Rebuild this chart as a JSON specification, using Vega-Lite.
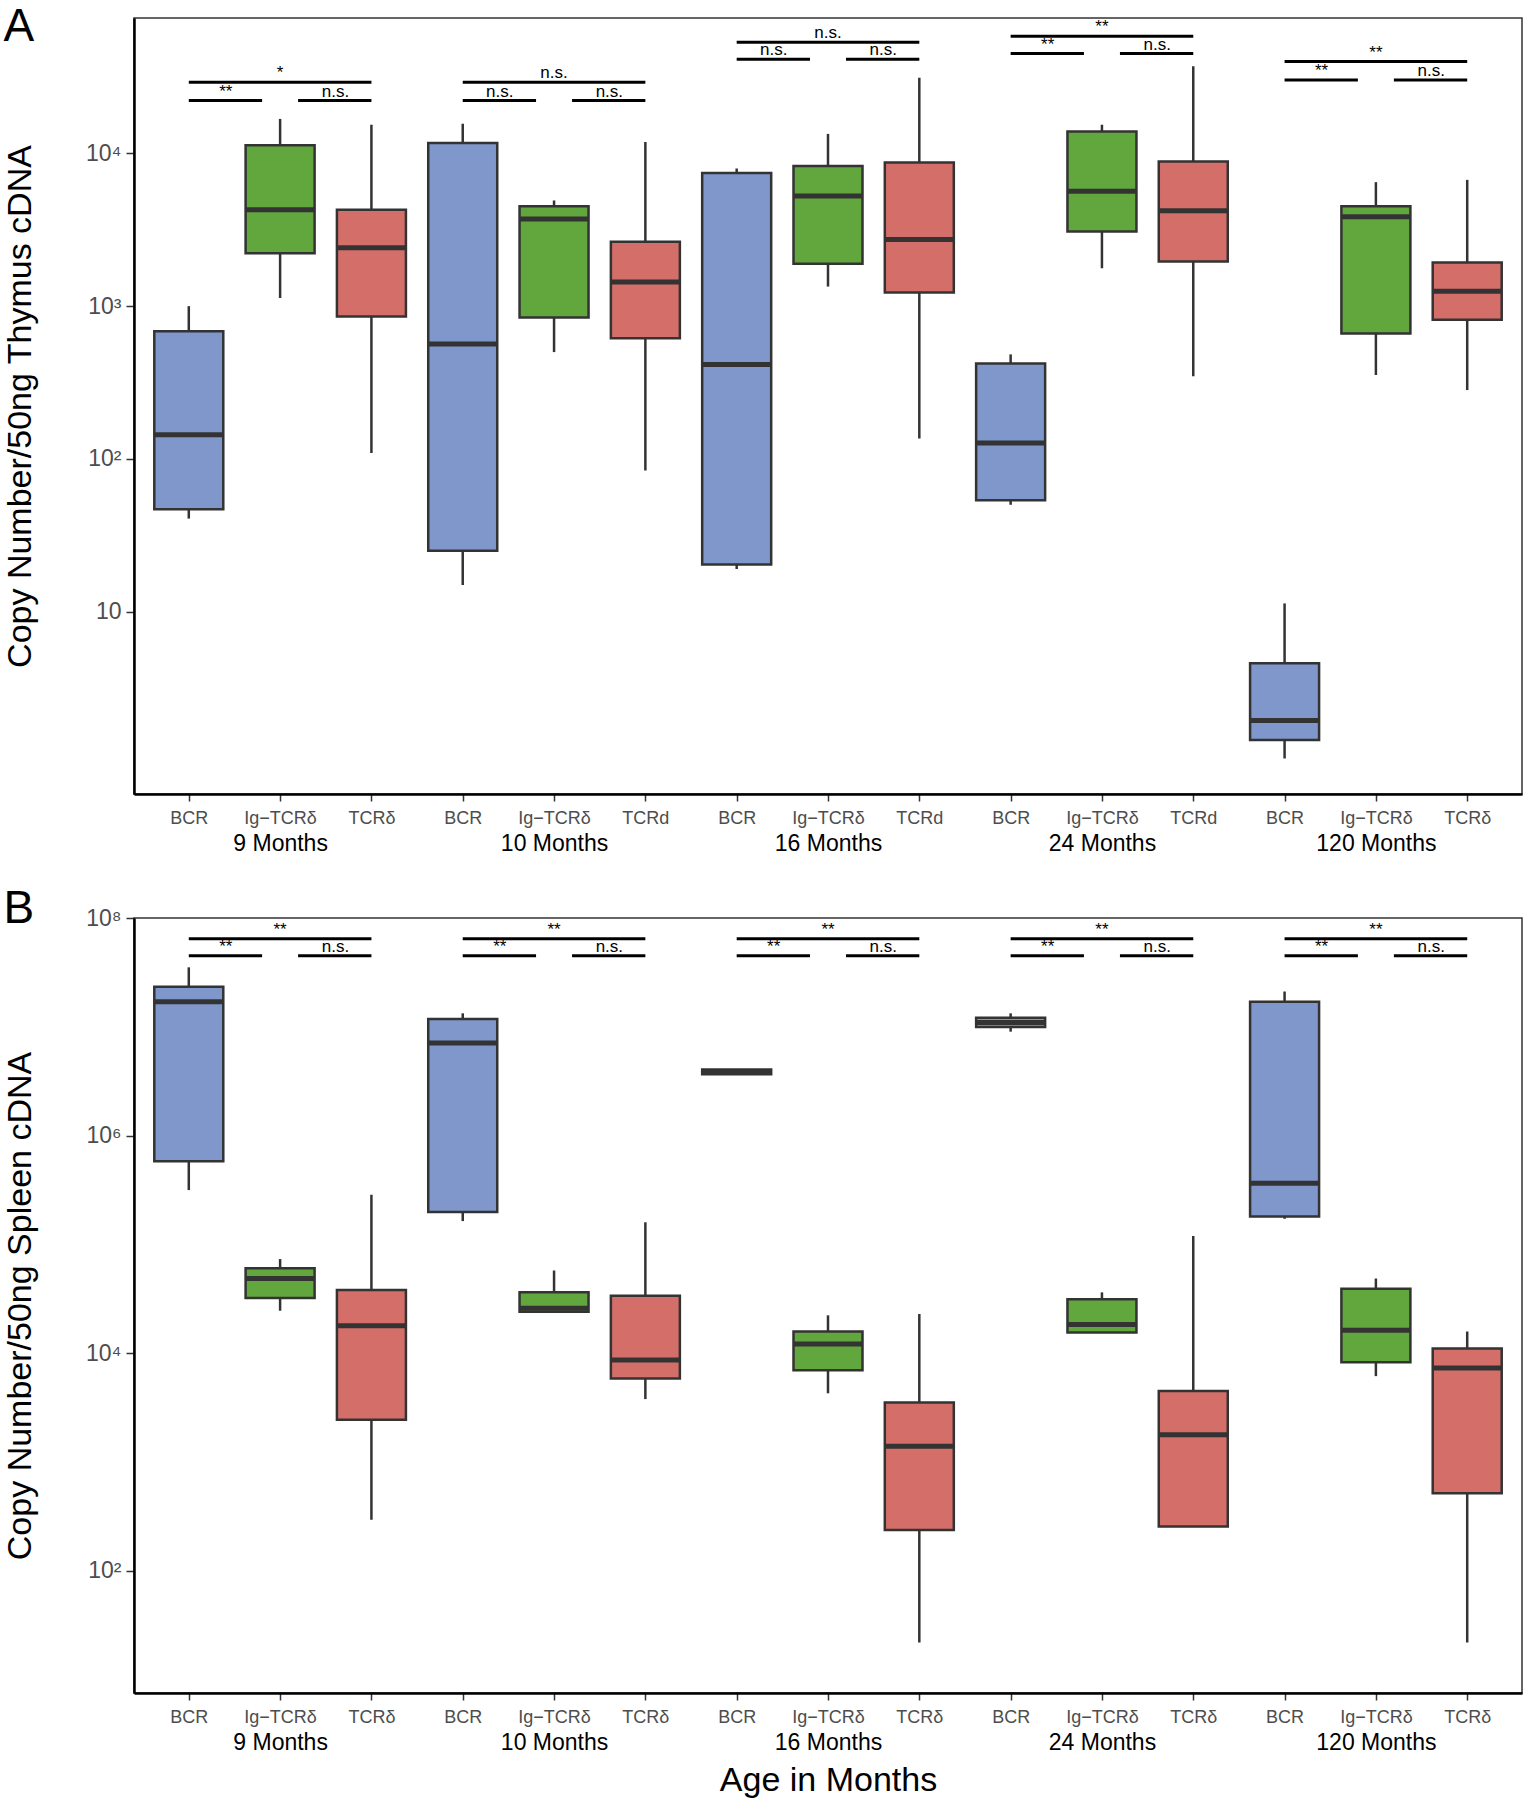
{
  "$schema": "https://vega.github.io/schema/vega-lite/v6.json",
  "padding": {"left": 2, "top": 3, "right": 1, "bottom": 0},
  "config": {
    "font": "Liberation Sans",
    "view": {"stroke": "#333333", "strokeWidth": 1.5},
    "axis": {"grid": false}
  },
  "spacing": 29,
  "datasets": {
    "boxA": [
      {"cat": "9 Months#BCR", "kind": "BCR", "lower": 40.6, "q1": 46.7, "median": 144, "q3": 684, "upper": 1000},
      {"cat": "9 Months#Ig−TCRδ", "kind": "Ig", "lower": 1130, "q1": 2218, "median": 4285, "q3": 11300, "upper": 16830},
      {"cat": "9 Months#TCRδ", "kind": "TCR", "lower": 109, "q1": 855, "median": 2415, "q3": 4285, "upper": 15420},
      {"cat": "10 Months#BCR", "kind": "BCR", "lower": 14.9, "q1": 25, "median": 565, "q3": 11700, "upper": 15670},
      {"cat": "10 Months#Ig−TCRδ", "kind": "Ig", "lower": 500, "q1": 841, "median": 3724, "q3": 4508, "upper": 4920},
      {"cat": "10 Months#TCRd", "kind": "TCR", "lower": 84, "q1": 615, "median": 1439, "q3": 2636, "upper": 11885},
      {"cat": "16 Months#BCR", "kind": "BCR", "lower": 19, "q1": 20.3, "median": 414, "q3": 7450, "upper": 7980},
      {"cat": "16 Months#Ig−TCRδ", "kind": "Ig", "lower": 1343, "q1": 1897, "median": 5272, "q3": 8260, "upper": 13430},
      {"cat": "16 Months#TCRd", "kind": "TCR", "lower": 136, "q1": 1230, "median": 2729, "q3": 8710, "upper": 31330},
      {"cat": "24 Months#BCR", "kind": "BCR", "lower": 50, "q1": 53.6, "median": 127, "q3": 421, "upper": 483},
      {"cat": "24 Months#Ig−TCRδ", "kind": "Ig", "lower": 1770, "q1": 3083, "median": 5650, "q3": 13900, "upper": 15420},
      {"cat": "24 Months#TCRd", "kind": "TCR", "lower": 348, "q1": 1963, "median": 4207, "q3": 8850, "upper": 37240},
      {"cat": "120 Months#BCR", "kind": "BCR", "lower": 1.09, "q1": 1.44, "median": 1.93, "q3": 4.59, "upper": 11.3},
      {"cat": "120 Months#Ig−TCRδ", "kind": "Ig", "lower": 354, "q1": 661, "median": 3855, "q3": 4508, "upper": 6486},
      {"cat": "120 Months#TCRδ", "kind": "TCR", "lower": 282, "q1": 813, "median": 1253, "q3": 1932, "upper": 6714}
    ],
    "boxB": [
      {"cat": "9 Months#BCR", "kind": "BCR", "lower": 315500, "q1": 579400, "median": 17000000, "q3": 23300000, "upper": 35200000},
      {"cat": "9 Months#Ig−TCRδ", "kind": "Ig", "lower": 24550, "q1": 32140, "median": 48530, "q3": 60390, "upper": 73280},
      {"cat": "9 Months#TCRδ", "kind": "TCR", "lower": 295, "q1": 2443, "median": 17910, "q3": 38020, "upper": 285800},
      {"cat": "10 Months#BCR", "kind": "BCR", "lower": 163700, "q1": 198600, "median": 7080000, "q3": 11780000, "upper": 13300000},
      {"cat": "10 Months#Ig−TCRδ", "kind": "Ig", "lower": 23990, "q1": 23990, "median": 25820, "q3": 36220, "upper": 57540},
      {"cat": "10 Months#TCRδ", "kind": "TCR", "lower": 3784, "q1": 5861, "median": 8650, "q3": 33730, "upper": 159600},
      {"cat": "16 Months#BCR", "kind": "BCR", "lower": 3670000, "q1": 3670000, "median": 3855000, "q3": 4050000, "upper": 4050000},
      {"cat": "16 Months#Ig−TCRδ", "kind": "Ig", "lower": 4276, "q1": 6950, "median": 12130, "q3": 15850, "upper": 22280},
      {"cat": "16 Months#TCRδ", "kind": "TCR", "lower": 21.9, "q1": 237, "median": 1396, "q3": 3516, "upper": 22860},
      {"cat": "24 Months#BCR", "kind": "BCR", "lower": 9020000, "q1": 9930000, "median": 10960000, "q3": 12080000, "upper": 13300000},
      {"cat": "24 Months#Ig−TCRδ", "kind": "Ig", "lower": 15490, "q1": 15490, "median": 18370, "q3": 31330, "upper": 36220},
      {"cat": "24 Months#TCRδ", "kind": "TCR", "lower": 254.7, "q1": 254.7, "median": 1778, "q3": 4487, "upper": 119400},
      {"cat": "120 Months#BCR", "kind": "BCR", "lower": 171800, "q1": 180300, "median": 364800, "q3": 17000000, "upper": 21100000},
      {"cat": "120 Months#Ig−TCRδ", "kind": "Ig", "lower": 6152, "q1": 8241, "median": 16250, "q3": 38990, "upper": 48530},
      {"cat": "120 Months#TCRδ", "kind": "TCR", "lower": 21.9, "q1": 515, "median": 7295, "q3": 11020, "upper": 15850}
    ],
    "sigA": [
      {"a": "9 Months#BCR", "b": "9 Months#Ig−TCRδ", "c": "9 Months#TCRδ", "yTop": 29240, "yLow": 22180, "top": "*", "left": "**", "right": "n.s."},
      {"a": "10 Months#BCR", "b": "10 Months#Ig−TCRδ", "c": "10 Months#TCRd", "yTop": 29240, "yLow": 22180, "top": "n.s.", "left": "n.s.", "right": "n.s."},
      {"a": "16 Months#BCR", "b": "16 Months#Ig−TCRδ", "c": "16 Months#TCRd", "yTop": 53580, "yLow": 41400, "top": "n.s.", "left": "n.s.", "right": "n.s."},
      {"a": "24 Months#BCR", "b": "24 Months#Ig−TCRδ", "c": "24 Months#TCRd", "yTop": 58480, "yLow": 45080, "top": "**", "left": "**", "right": "n.s."},
      {"a": "120 Months#BCR", "b": "120 Months#Ig−TCRδ", "c": "120 Months#TCRδ", "yTop": 39990, "yLow": 30270, "top": "**", "left": "**", "right": "n.s."}
    ],
    "sigB": [
      {"a": "9 Months#BCR", "b": "9 Months#Ig−TCRδ", "c": "9 Months#TCRδ", "yTop": 64600000, "yLow": 44900000, "top": "**", "left": "**", "right": "n.s."},
      {"a": "10 Months#BCR", "b": "10 Months#Ig−TCRδ", "c": "10 Months#TCRδ", "yTop": 64600000, "yLow": 44900000, "top": "**", "left": "**", "right": "n.s."},
      {"a": "16 Months#BCR", "b": "16 Months#Ig−TCRδ", "c": "16 Months#TCRδ", "yTop": 64600000, "yLow": 44900000, "top": "**", "left": "**", "right": "n.s."},
      {"a": "24 Months#BCR", "b": "24 Months#Ig−TCRδ", "c": "24 Months#TCRδ", "yTop": 64600000, "yLow": 44900000, "top": "**", "left": "**", "right": "n.s."},
      {"a": "120 Months#BCR", "b": "120 Months#Ig−TCRδ", "c": "120 Months#TCRδ", "yTop": 64600000, "yLow": 44900000, "top": "**", "left": "**", "right": "n.s."}
    ]
  },
  "vconcat": [
    {
      "width": 1388,
      "height": 776,
      "title": {"text": "A", "anchor": "start", "frame": "bounds", "fontSize": 46, "fontWeight": "normal", "color": "black", "offset": -33},
      "resolve": {"axis": {"x": "independent"}},
      "layer": [
        {
          "data": {"name": "boxA"},
          "mark": {"type": "rule", "color": "#333333", "strokeWidth": 2.5},
          "encoding": {
            "x": {"field": "cat", "type": "nominal",
              "scale": {"type": "point", "padding": 0.6, "domain": ["9 Months#BCR","9 Months#Ig−TCRδ","9 Months#TCRδ","10 Months#BCR","10 Months#Ig−TCRδ","10 Months#TCRd","16 Months#BCR","16 Months#Ig−TCRδ","16 Months#TCRd","24 Months#BCR","24 Months#Ig−TCRδ","24 Months#TCRd","120 Months#BCR","120 Months#Ig−TCRδ","120 Months#TCRδ"]},
              "axis": {"orient": "bottom", "title": null, "labelAngle": 0, "labelExpr": "split(datum.value,'#')[1]", "labelFontSize": 18, "labelColor": "#4D4D4D", "labelPadding": 8, "tickSize": 7, "tickWidth": 1.5, "tickColor": "#333333", "domainColor": "black", "domainWidth": 2.5}},
            "y": {"field": "lower", "type": "quantitative",
              "scale": {"type": "log", "domain": [0.638, 77100], "nice": false, "zero": false},
              "axis": {"values": [10, 100, 1000, 10000], "labelExpr": "datum.value == 10 ? '10' : '10' + ['⁰','¹','²','³','⁴','⁵','⁶','⁷','⁸','⁹'][round(log(datum.value)/LN10)]", "title": "Copy Number/50ng Thymus cDNA", "titleFontSize": 34, "titleFontWeight": "normal", "titleColor": "black", "titlePadding": 48, "labelFontSize": 23, "labelColor": "#4D4D4D", "labelPadding": 5, "tickSize": 8, "tickWidth": 1.5, "tickColor": "#333333", "domainColor": "black", "domainWidth": 2.5}},
            "y2": {"field": "upper"}
          }
        },
        {
          "data": {"name": "boxA"},
          "mark": {"type": "bar", "width": 69, "stroke": "#333333", "strokeWidth": 2.5},
          "encoding": {
            "x": {"field": "cat", "type": "nominal",
              "scale": {"type": "point", "padding": 0.6, "domain": ["9 Months#BCR","9 Months#Ig−TCRδ","9 Months#TCRδ","10 Months#BCR","10 Months#Ig−TCRδ","10 Months#TCRd","16 Months#BCR","16 Months#Ig−TCRδ","16 Months#TCRd","24 Months#BCR","24 Months#Ig−TCRδ","24 Months#TCRd","120 Months#BCR","120 Months#Ig−TCRδ","120 Months#TCRδ"]},
              "axis": {"orient": "bottom", "title": null, "labelAngle": 0, "labelExpr": "indexof(datum.value,'Ig') >= 0 ? split(datum.value,'#')[0] : ''", "labelFontSize": 23, "labelColor": "black", "labelPadding": 38, "ticks": false, "tickSize": 0, "domain": false}},
            "y": {"field": "q1", "type": "quantitative"},
            "y2": {"field": "q3"},
            "color": {"field": "kind", "type": "nominal", "scale": {"domain": ["BCR", "Ig", "TCR"], "range": ["#7F97CB", "#62A63E", "#D46E68"]}, "legend": null}
          }
        },
        {
          "data": {"name": "boxA"},
          "mark": {"type": "tick", "size": 69, "thickness": 5, "color": "#333333", "opacity": 1},
          "encoding": {
            "x": {"field": "cat", "type": "nominal", "axis": null,
              "scale": {"type": "point", "padding": 0.6, "domain": ["9 Months#BCR","9 Months#Ig−TCRδ","9 Months#TCRδ","10 Months#BCR","10 Months#Ig−TCRδ","10 Months#TCRd","16 Months#BCR","16 Months#Ig−TCRδ","16 Months#TCRd","24 Months#BCR","24 Months#Ig−TCRδ","24 Months#TCRd","120 Months#BCR","120 Months#Ig−TCRδ","120 Months#TCRδ"]}},
            "y": {"field": "median", "type": "quantitative"}
          }
        },
        {
          "data": {"name": "sigA"},
          "mark": {"type": "rule", "color": "black", "strokeWidth": 3},
          "encoding": {
            "x": {"field": "a", "type": "nominal", "axis": null,
              "scale": {"type": "point", "padding": 0.6, "domain": ["9 Months#BCR","9 Months#Ig−TCRδ","9 Months#TCRδ","10 Months#BCR","10 Months#Ig−TCRδ","10 Months#TCRd","16 Months#BCR","16 Months#Ig−TCRδ","16 Months#TCRd","24 Months#BCR","24 Months#Ig−TCRδ","24 Months#TCRd","120 Months#BCR","120 Months#Ig−TCRδ","120 Months#TCRδ"]}},
            "x2": {"field": "c"},
            "y": {"field": "yTop", "type": "quantitative"}
          }
        },
        {
          "data": {"name": "sigA"},
          "mark": {"type": "rule", "color": "black", "strokeWidth": 3, "x2Offset": -18},
          "encoding": {
            "x": {"field": "a", "type": "nominal", "axis": null,
              "scale": {"type": "point", "padding": 0.6, "domain": ["9 Months#BCR","9 Months#Ig−TCRδ","9 Months#TCRδ","10 Months#BCR","10 Months#Ig−TCRδ","10 Months#TCRd","16 Months#BCR","16 Months#Ig−TCRδ","16 Months#TCRd","24 Months#BCR","24 Months#Ig−TCRδ","24 Months#TCRd","120 Months#BCR","120 Months#Ig−TCRδ","120 Months#TCRδ"]}},
            "x2": {"field": "b"},
            "y": {"field": "yLow", "type": "quantitative"}
          }
        },
        {
          "data": {"name": "sigA"},
          "mark": {"type": "rule", "color": "black", "strokeWidth": 3, "xOffset": 18},
          "encoding": {
            "x": {"field": "b", "type": "nominal", "axis": null,
              "scale": {"type": "point", "padding": 0.6, "domain": ["9 Months#BCR","9 Months#Ig−TCRδ","9 Months#TCRδ","10 Months#BCR","10 Months#Ig−TCRδ","10 Months#TCRd","16 Months#BCR","16 Months#Ig−TCRδ","16 Months#TCRd","24 Months#BCR","24 Months#Ig−TCRδ","24 Months#TCRd","120 Months#BCR","120 Months#Ig−TCRδ","120 Months#TCRδ"]}},
            "x2": {"field": "c"},
            "y": {"field": "yLow", "type": "quantitative"}
          }
        },
        {
          "data": {"name": "sigA"},
          "mark": {"type": "text", "fontSize": 17, "baseline": "alphabetic", "dy": -4, "color": "black"},
          "encoding": {
            "x": {"field": "b", "type": "nominal", "axis": null,
              "scale": {"type": "point", "padding": 0.6, "domain": ["9 Months#BCR","9 Months#Ig−TCRδ","9 Months#TCRδ","10 Months#BCR","10 Months#Ig−TCRδ","10 Months#TCRd","16 Months#BCR","16 Months#Ig−TCRδ","16 Months#TCRd","24 Months#BCR","24 Months#Ig−TCRδ","24 Months#TCRd","120 Months#BCR","120 Months#Ig−TCRδ","120 Months#TCRδ"]}},
            "y": {"field": "yTop", "type": "quantitative"},
            "text": {"field": "top"}
          }
        },
        {
          "data": {"name": "sigA"},
          "mark": {"type": "text", "fontSize": 17, "baseline": "alphabetic", "dy": -4, "dx": 37, "color": "black"},
          "encoding": {
            "x": {"field": "a", "type": "nominal", "axis": null,
              "scale": {"type": "point", "padding": 0.6, "domain": ["9 Months#BCR","9 Months#Ig−TCRδ","9 Months#TCRδ","10 Months#BCR","10 Months#Ig−TCRδ","10 Months#TCRd","16 Months#BCR","16 Months#Ig−TCRδ","16 Months#TCRd","24 Months#BCR","24 Months#Ig−TCRδ","24 Months#TCRd","120 Months#BCR","120 Months#Ig−TCRδ","120 Months#TCRδ"]}},
            "y": {"field": "yLow", "type": "quantitative"},
            "text": {"field": "left"}
          }
        },
        {
          "data": {"name": "sigA"},
          "mark": {"type": "text", "fontSize": 17, "baseline": "alphabetic", "dy": -4, "dx": -36, "color": "black"},
          "encoding": {
            "x": {"field": "c", "type": "nominal", "axis": null,
              "scale": {"type": "point", "padding": 0.6, "domain": ["9 Months#BCR","9 Months#Ig−TCRδ","9 Months#TCRδ","10 Months#BCR","10 Months#Ig−TCRδ","10 Months#TCRd","16 Months#BCR","16 Months#Ig−TCRδ","16 Months#TCRd","24 Months#BCR","24 Months#Ig−TCRδ","24 Months#TCRd","120 Months#BCR","120 Months#Ig−TCRδ","120 Months#TCRδ"]}},
            "y": {"field": "yLow", "type": "quantitative"},
            "text": {"field": "right"}
          }
        }
      ]
    },
    {
      "width": 1388,
      "height": 775,
      "title": {"text": "B", "anchor": "start", "frame": "bounds", "fontSize": 46, "fontWeight": "normal", "color": "black", "offset": -26},
      "resolve": {"axis": {"x": "independent"}},
      "layer": [
        {
          "data": {"name": "boxB"},
          "mark": {"type": "rule", "color": "#333333", "strokeWidth": 2.5},
          "encoding": {
            "x": {"field": "cat", "type": "nominal",
              "scale": {"type": "point", "padding": 0.6, "domain": ["9 Months#BCR","9 Months#Ig−TCRδ","9 Months#TCRδ","10 Months#BCR","10 Months#Ig−TCRδ","10 Months#TCRδ","16 Months#BCR","16 Months#Ig−TCRδ","16 Months#TCRδ","24 Months#BCR","24 Months#Ig−TCRδ","24 Months#TCRδ","120 Months#BCR","120 Months#Ig−TCRδ","120 Months#TCRδ"]},
              "axis": {"orient": "bottom", "title": null, "labelAngle": 0, "labelExpr": "split(datum.value,'#')[1]", "labelFontSize": 18, "labelColor": "#4D4D4D", "labelPadding": 8, "tickSize": 7, "tickWidth": 1.5, "tickColor": "#333333", "domainColor": "black", "domainWidth": 2.5}},
            "y": {"field": "lower", "type": "quantitative",
              "scale": {"type": "log", "domain": [7.52, 100000000], "nice": false, "zero": false},
              "axis": {"values": [100, 10000, 1000000, 100000000], "labelExpr": "datum.value == 10 ? '10' : '10' + ['⁰','¹','²','³','⁴','⁵','⁶','⁷','⁸','⁹'][round(log(datum.value)/LN10)]", "title": "Copy Number/50ng Spleen cDNA", "titleFontSize": 34, "titleFontWeight": "normal", "titleColor": "black", "titlePadding": 48, "labelFontSize": 23, "labelColor": "#4D4D4D", "labelPadding": 5, "tickSize": 8, "tickWidth": 1.5, "tickColor": "#333333", "domainColor": "black", "domainWidth": 2.5}},
            "y2": {"field": "upper"}
          }
        },
        {
          "data": {"name": "boxB"},
          "mark": {"type": "bar", "width": 69, "stroke": "#333333", "strokeWidth": 2.5},
          "encoding": {
            "x": {"field": "cat", "type": "nominal",
              "scale": {"type": "point", "padding": 0.6, "domain": ["9 Months#BCR","9 Months#Ig−TCRδ","9 Months#TCRδ","10 Months#BCR","10 Months#Ig−TCRδ","10 Months#TCRδ","16 Months#BCR","16 Months#Ig−TCRδ","16 Months#TCRδ","24 Months#BCR","24 Months#Ig−TCRδ","24 Months#TCRδ","120 Months#BCR","120 Months#Ig−TCRδ","120 Months#TCRδ"]},
              "axis": {"orient": "bottom", "title": "Age in Months", "titleFontSize": 34, "titleFontWeight": "normal", "titleColor": "black", "titlePadding": 9, "labelAngle": 0, "labelExpr": "indexof(datum.value,'Ig') >= 0 ? split(datum.value,'#')[0] : ''", "labelFontSize": 23, "labelColor": "black", "labelPadding": 38, "ticks": false, "tickSize": 0, "domain": false}},
            "y": {"field": "q1", "type": "quantitative"},
            "y2": {"field": "q3"},
            "color": {"field": "kind", "type": "nominal", "scale": {"domain": ["BCR", "Ig", "TCR"], "range": ["#7F97CB", "#62A63E", "#D46E68"]}, "legend": null}
          }
        },
        {
          "data": {"name": "boxB"},
          "mark": {"type": "tick", "size": 69, "thickness": 5, "color": "#333333", "opacity": 1},
          "encoding": {
            "x": {"field": "cat", "type": "nominal", "axis": null,
              "scale": {"type": "point", "padding": 0.6, "domain": ["9 Months#BCR","9 Months#Ig−TCRδ","9 Months#TCRδ","10 Months#BCR","10 Months#Ig−TCRδ","10 Months#TCRδ","16 Months#BCR","16 Months#Ig−TCRδ","16 Months#TCRδ","24 Months#BCR","24 Months#Ig−TCRδ","24 Months#TCRδ","120 Months#BCR","120 Months#Ig−TCRδ","120 Months#TCRδ"]}},
            "y": {"field": "median", "type": "quantitative"}
          }
        },
        {
          "data": {"name": "sigB"},
          "mark": {"type": "rule", "color": "black", "strokeWidth": 3},
          "encoding": {
            "x": {"field": "a", "type": "nominal", "axis": null,
              "scale": {"type": "point", "padding": 0.6, "domain": ["9 Months#BCR","9 Months#Ig−TCRδ","9 Months#TCRδ","10 Months#BCR","10 Months#Ig−TCRδ","10 Months#TCRδ","16 Months#BCR","16 Months#Ig−TCRδ","16 Months#TCRδ","24 Months#BCR","24 Months#Ig−TCRδ","24 Months#TCRδ","120 Months#BCR","120 Months#Ig−TCRδ","120 Months#TCRδ"]}},
            "x2": {"field": "c"},
            "y": {"field": "yTop", "type": "quantitative"}
          }
        },
        {
          "data": {"name": "sigB"},
          "mark": {"type": "rule", "color": "black", "strokeWidth": 3, "x2Offset": -18},
          "encoding": {
            "x": {"field": "a", "type": "nominal", "axis": null,
              "scale": {"type": "point", "padding": 0.6, "domain": ["9 Months#BCR","9 Months#Ig−TCRδ","9 Months#TCRδ","10 Months#BCR","10 Months#Ig−TCRδ","10 Months#TCRδ","16 Months#BCR","16 Months#Ig−TCRδ","16 Months#TCRδ","24 Months#BCR","24 Months#Ig−TCRδ","24 Months#TCRδ","120 Months#BCR","120 Months#Ig−TCRδ","120 Months#TCRδ"]}},
            "x2": {"field": "b"},
            "y": {"field": "yLow", "type": "quantitative"}
          }
        },
        {
          "data": {"name": "sigB"},
          "mark": {"type": "rule", "color": "black", "strokeWidth": 3, "xOffset": 18},
          "encoding": {
            "x": {"field": "b", "type": "nominal", "axis": null,
              "scale": {"type": "point", "padding": 0.6, "domain": ["9 Months#BCR","9 Months#Ig−TCRδ","9 Months#TCRδ","10 Months#BCR","10 Months#Ig−TCRδ","10 Months#TCRδ","16 Months#BCR","16 Months#Ig−TCRδ","16 Months#TCRδ","24 Months#BCR","24 Months#Ig−TCRδ","24 Months#TCRδ","120 Months#BCR","120 Months#Ig−TCRδ","120 Months#TCRδ"]}},
            "x2": {"field": "c"},
            "y": {"field": "yLow", "type": "quantitative"}
          }
        },
        {
          "data": {"name": "sigB"},
          "mark": {"type": "text", "fontSize": 17, "baseline": "alphabetic", "dy": -4, "color": "black"},
          "encoding": {
            "x": {"field": "b", "type": "nominal", "axis": null,
              "scale": {"type": "point", "padding": 0.6, "domain": ["9 Months#BCR","9 Months#Ig−TCRδ","9 Months#TCRδ","10 Months#BCR","10 Months#Ig−TCRδ","10 Months#TCRδ","16 Months#BCR","16 Months#Ig−TCRδ","16 Months#TCRδ","24 Months#BCR","24 Months#Ig−TCRδ","24 Months#TCRδ","120 Months#BCR","120 Months#Ig−TCRδ","120 Months#TCRδ"]}},
            "y": {"field": "yTop", "type": "quantitative"},
            "text": {"field": "top"}
          }
        },
        {
          "data": {"name": "sigB"},
          "mark": {"type": "text", "fontSize": 17, "baseline": "alphabetic", "dy": -4, "dx": 37, "color": "black"},
          "encoding": {
            "x": {"field": "a", "type": "nominal", "axis": null,
              "scale": {"type": "point", "padding": 0.6, "domain": ["9 Months#BCR","9 Months#Ig−TCRδ","9 Months#TCRδ","10 Months#BCR","10 Months#Ig−TCRδ","10 Months#TCRδ","16 Months#BCR","16 Months#Ig−TCRδ","16 Months#TCRδ","24 Months#BCR","24 Months#Ig−TCRδ","24 Months#TCRδ","120 Months#BCR","120 Months#Ig−TCRδ","120 Months#TCRδ"]}},
            "y": {"field": "yLow", "type": "quantitative"},
            "text": {"field": "left"}
          }
        },
        {
          "data": {"name": "sigB"},
          "mark": {"type": "text", "fontSize": 17, "baseline": "alphabetic", "dy": -4, "dx": -36, "color": "black"},
          "encoding": {
            "x": {"field": "c", "type": "nominal", "axis": null,
              "scale": {"type": "point", "padding": 0.6, "domain": ["9 Months#BCR","9 Months#Ig−TCRδ","9 Months#TCRδ","10 Months#BCR","10 Months#Ig−TCRδ","10 Months#TCRδ","16 Months#BCR","16 Months#Ig−TCRδ","16 Months#TCRδ","24 Months#BCR","24 Months#Ig−TCRδ","24 Months#TCRδ","120 Months#BCR","120 Months#Ig−TCRδ","120 Months#TCRδ"]}},
            "y": {"field": "yLow", "type": "quantitative"},
            "text": {"field": "right"}
          }
        }
      ]
    }
  ]
}
